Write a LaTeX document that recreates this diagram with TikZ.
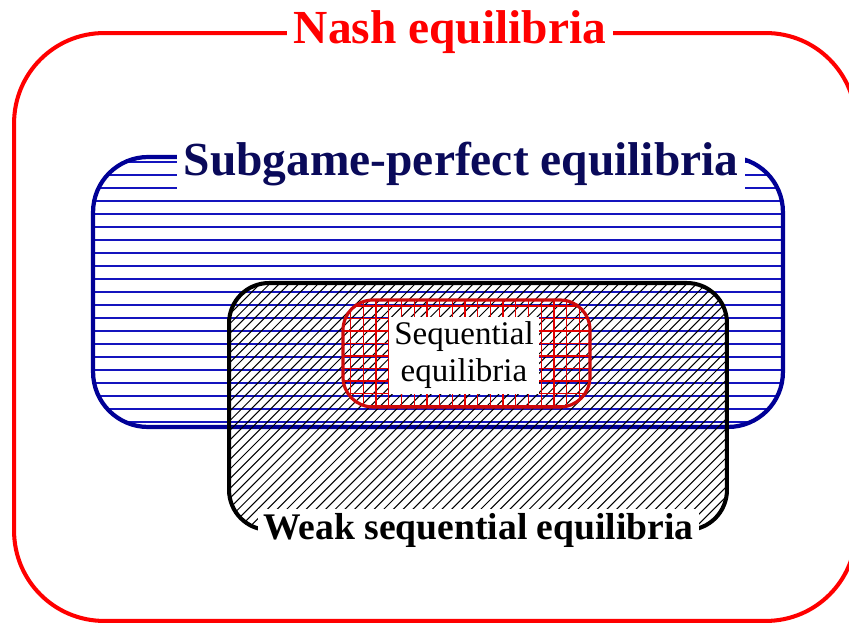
\documentclass[tikz,border=0pt]{standalone}
\usepackage{fontspec}
\setmainfont{Liberation Serif}

\definecolor{nashred}{RGB}{255,0,0}
\definecolor{speborder}{RGB}{0,0,150}
\definecolor{spelines}{RGB}{20,20,190}
\definecolor{spetext}{RGB}{10,10,90}
\definecolor{seborder}{RGB}{205,10,10}
\definecolor{segrid}{RGB}{225,0,0}

\begin{document}
\begin{tikzpicture}[
        x=0.02cm, y=-0.02cm,
        nashbox/.style={draw=nashred, line width=2.3pt, rounded corners=1.8cm, minimum width=16.84cm, minimum height=11.76cm, inner sep=0pt},
        spebox/.style={draw=speborder, line width=2.4pt, rounded corners=1.1cm, minimum width=13.8cm, minimum height=5.4cm, inner sep=0pt},
        wsebox/.style={draw=black, line width=2.3pt, rounded corners=0.8cm, minimum width=9.96cm, minimum height=4.94cm, inner sep=0pt},
        sebox/.style={draw=seborder, line width=1.8pt, rounded corners=0.6cm, minimum width=4.94cm, minimum height=2.14cm, inner sep=0pt},
        speline/.style={spelines, line width=0.65pt},
        wseline/.style={black, line width=0.6pt},
        seline/.style={segrid, line width=0.75pt},
        biglabel/.style={fill=white, inner sep=4pt, font=\bfseries\fontsize{27}{32}\selectfont},
        selabel/.style={fill=white, inner sep=3pt, align=center, font=\fontsize{18.8}{21}\selectfont}
    ]
    \useasboundingbox (0,0) rectangle (849,624);

    % Nash equilibria
    \node[nashbox] (nash) at (435,327) {};

    % Subgame-perfect equilibria, horizontal lines
    \begin{scope}
        \clip[rounded corners=1.1cm] (93,157) rectangle (783,427);
        \foreach \y in {162,175,...,426}
            \draw[speline] (90,\y) -- (790,\y);
    \end{scope}
    \node[spebox] (spe) at (438,292) {};

    % Weak sequential equilibria, slanted lines
    \begin{scope}
        \clip[rounded corners=0.8cm] (229,283) rectangle (727,530);
        \foreach \c in {505,514.7,...,1265}
            \draw[wseline] (\c-540,540) -- (\c-275,275);
    \end{scope}
    \node[wsebox] (wse) at (478,406.5) {};

    % Sequential equilibria, grid
    \begin{scope}
        \clip[rounded corners=0.6cm] (343,300) rectangle (590,407);
        \foreach \x in {338,350.7,...,600}
            \draw[seline] (\x,295) -- (\x,412);
        \foreach \y in {293.5,306,...,412}
            \draw[seline] (338,\y) -- (595,\y);
    \end{scope}
    \node[sebox] (se) at (466.5,353.5) {};

    % names of the sets
    \node[biglabel, text=nashred, anchor=base] (nashlbl) at (450,44) {Nash equilibria};
    \node[biglabel, text=spetext, anchor=base] (spelbl) at (461,176) {Subgame-perfect equilibria};
    \node[biglabel, font=\bfseries\fontsize{21.4}{26}\selectfont, inner sep=3pt, anchor=base] (wselbl) at (478.5,540) {Weak sequential equilibria};
    \node[selabel] (selbl) at (464,355.5) {Sequential\\equilibria};
\end{tikzpicture}
\end{document}
